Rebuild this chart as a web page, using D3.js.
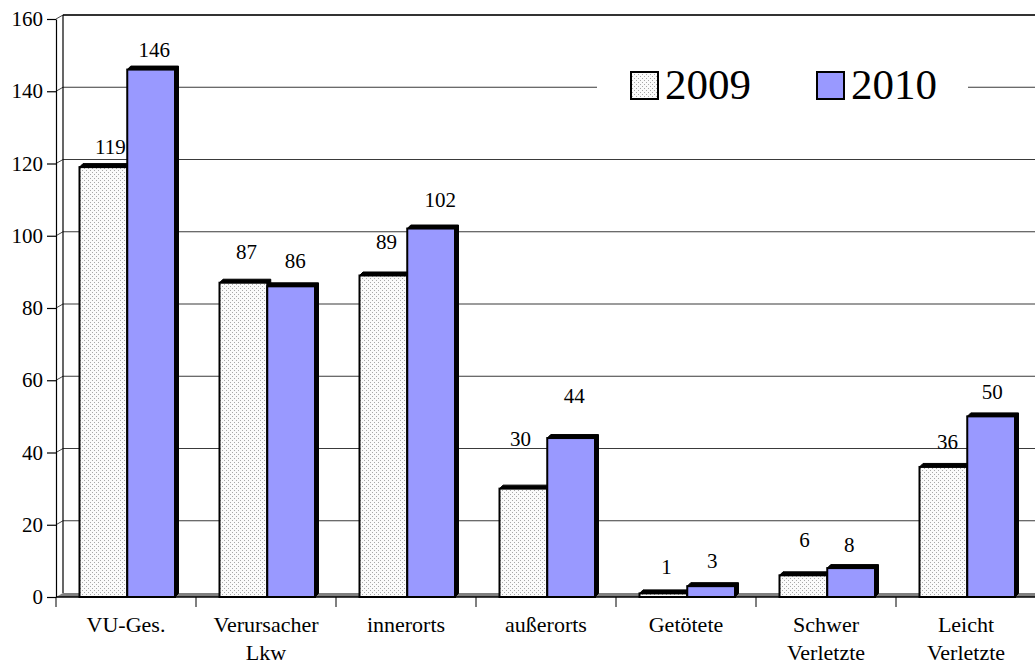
<!DOCTYPE html>
<html><head><meta charset="utf-8">
<script src="https://cdn.jsdelivr.net/npm/d3@7"></script>
<style>body{margin:0;background:#fff}svg{display:block}svg text{font-family:"Liberation Serif","Times New Roman",Tinos,"DejaVu Serif","Noto Serif",serif}</style>
</head><body><svg id="c" width="1035" height="665"></svg>
<script>
const categories = ["VU-Ges.", "Verursacher Lkw", "innerorts", "außerorts", "Getötete", "Schwer Verletzte", "Leicht Verletzte"];
const seriesNames = ["2009", "2010"];
const values2009 = [119, 87, 89, 30, 1, 6, 36];
const values2010 = [146, 86, 102, 44, 3, 8, 50];
const yTicks = [0, 20, 40, 60, 80, 100, 120, 140, 160];
// manual label nudges (dx, dy) relative to bar top centre
const labelShift2009 = [[7,-20],[3,-31],[3,-33],[-3,-50],[3,-26],[1,-35],[4,-25]];
const labelShift2010 = [[3,-20],[4,-25],[9,-29],[3,-42],[1,-25],[-2,-23],[1,-24]];

const svg = d3.select("#c");
const defs = svg.append("defs");
const pat = defs.append("pattern").attr("id","dots").attr("patternUnits","userSpaceOnUse").attr("width",4).attr("height",4);
pat.append("rect").attr("width",4).attr("height",4).attr("fill","#fbfbfb");
pat.append("rect").attr("x",0).attr("y",0).attr("width",1).attr("height",1).attr("fill","#a8a8a8");
pat.append("rect").attr("x",2).attr("y",2).attr("width",1).attr("height",1).attr("fill","#a8a8a8");

const fills = {"2009":"url(#dots)", "2010":"#9999ff"};
const left = 56, right = 1036, base = 597;
const wallDx = 7, wallDy = -4, barD = 3.5;
const y = d3.scaleLinear().domain([0,160]).range([base, 19]);
const x = d3.scaleBand().domain(categories).range([left, right]);
const xs = d3.scaleBand().domain(seriesNames).range([23.5, 119]);

// floor
svg.append("polygon").attr("points", [[left,base],[left+wallDx,base+wallDy],[right+wallDx,base+wallDy],[right,base]].join(" "))
  .attr("fill","#808080");
// back wall gridlines
yTicks.filter(t=>t>0).forEach(t=>{
  svg.append("line").attr("x1",left+wallDx).attr("x2",1035).attr("y1",y(t)+wallDy).attr("y2",y(t)+wallDy)
    .attr("stroke", t===160? "#333":"#3a3a3a").attr("stroke-width", t===160?2:1.2);
  svg.append("line").attr("x1",left).attr("x2",left+wallDx).attr("y1",y(t)).attr("y2",y(t)+wallDy)
    .attr("stroke","#444").attr("stroke-width",1);
});
// back wall left edge
svg.append("line").attr("x1",left+wallDx).attr("x2",left+wallDx).attr("y1",y(160)+wallDy).attr("y2",base+wallDy)
  .attr("stroke","#000").attr("stroke-width",1.2);

// legend background (covers gridline)
const lg = svg.append("g");
lg.append("rect").attr("x",597).attr("y",62).attr("width",371).attr("height",50).attr("fill","#fff");
seriesNames.forEach((s,i)=>{
  const lx = 631 + i*186;
  lg.append("rect").attr("x",lx).attr("y",72).attr("width",27).attr("height",27)
    .attr("fill",fills[s]).attr("stroke","#000").attr("stroke-width",2);
  lg.append("text").attr("x",lx+34).attr("y",99).attr("font-size",43).attr("fill","#000").text(s);
});

// bars
const data = [];
categories.forEach((c,i)=>{
  data.push({c, s:"2009", v:values2009[i], sh:labelShift2009[i]});
  data.push({c, s:"2010", v:values2010[i], sh:labelShift2010[i]});
});
const bars = svg.append("g");
data.forEach(d=>{
  const bx = x(d.c) + xs(d.s), w = xs.bandwidth(), yt = y(d.v);
  const g = bars.append("g");
  g.append("polygon").attr("points",[[bx,yt],[bx+barD,yt-barD],[bx+w+barD,yt-barD],[bx+w+barD,base-barD],[bx+w,base],[bx+w,yt]].join(" "))
    .attr("fill","#000").attr("stroke","#000").attr("stroke-width",1);
  g.append("rect").attr("x",bx).attr("y",yt).attr("width",w).attr("height",base-yt)
    .attr("fill",fills[d.s]).attr("stroke","#000").attr("stroke-width",2);
});
// value labels
data.forEach(d=>{
  const cx = x(d.c) + xs(d.s) + xs.bandwidth()/2 + d.sh[0];
  const cy = y(d.v) + d.sh[1];
  svg.append("text").attr("x",cx).attr("y",cy+7).attr("text-anchor","middle").attr("font-size",21).attr("fill","#000").text(d.v);
});

// y axis
const ya = svg.append("g").attr("transform",`translate(${left},0)`)
  .call(d3.axisLeft(y).tickValues(yTicks).tickSize(9).tickSizeOuter(0).tickPadding(4));
ya.attr("font-family",null);
ya.selectAll("text").attr("font-size",21).attr("fill","#000");
ya.selectAll("line,path").attr("stroke","#000").attr("stroke-width",1.2);

// x axis
svg.append("line").attr("x1",left).attr("x2",1035).attr("y1",base).attr("y2",base).attr("stroke","#000").attr("stroke-width",1.5);
categories.concat(["__end"]).forEach((c,i)=>{
  const tx = i < categories.length ? x(c) : right;
  svg.append("line").attr("x1",tx).attr("x2",tx).attr("y1",base).attr("y2",base+10).attr("stroke","#000").attr("stroke-width",1);
});
categories.forEach(c=>{
  const lines = c.split(" ");
  const t = svg.append("text").attr("text-anchor","middle").attr("font-size",22).attr("fill","#000");
  lines.forEach((ln,j)=>{
    t.append("tspan").attr("x", x(c)+x.bandwidth()/2).attr("y", 632 + j*27.5).text(ln);
  });
});
</script></body></html>
